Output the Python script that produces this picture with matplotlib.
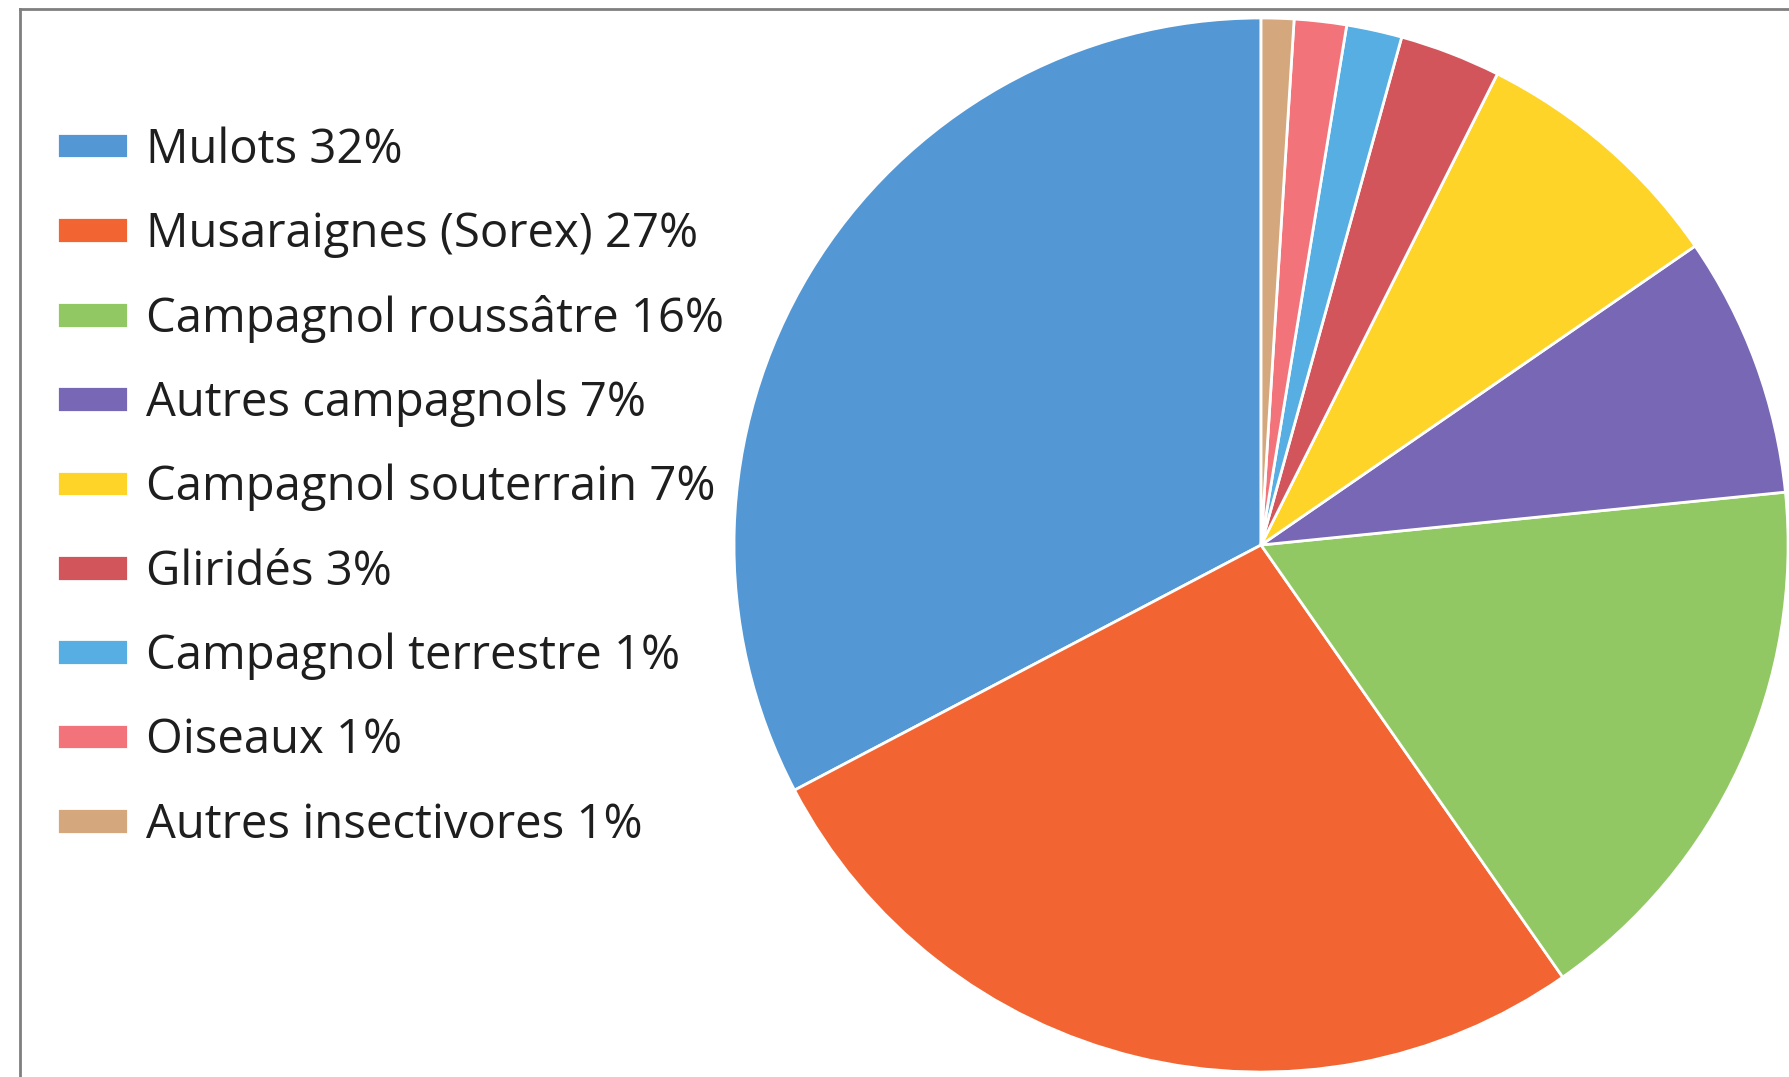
import matplotlib.pyplot as plt
from matplotlib.lines import Line2D

# share of each prey group
labels = ["Mulots 32%", "Musaraignes (Sorex) 27%", "Campagnol roussâtre 16%",
          "Autres campagnols 7%", "Campagnol souterrain 7%", "Gliridés 3%",
          "Campagnol terrestre 1%", "Oiseaux 1%", "Autres insectivores 1%"]
values = [32.7, 27.0, 16.9, 8.0, 8.0, 3.1, 1.7, 1.6, 1.0]
colors = ["#5397D5", "#F26532", "#92C863", "#7867B4", "#FDD427",
          "#D2555C", "#56AEE2", "#F2737A", "#D5A77C"]

plt.rcParams['font.family'] = ['Open Sans', 'DejaVu Sans']

fig = plt.figure(figsize=(17.9, 10.77), dpi=100)
ax = fig.add_axes([0.410, 0.0046, 0.589, 0.9787])

wedges, _ = ax.pie(values, colors=colors, startangle=90, counterclock=True,
                   wedgeprops=dict(edgecolor="white", linewidth=2))
ax.set_xlim(-1.0, 1.0)
ax.set_ylim(-1.0, 1.0)
ax.set_aspect("equal")

fig.legend(wedges, labels, loc="upper left", bbox_to_anchor=(57 / 1790, 0.883),
           frameon=False, fontsize=34, borderpad=0, borderaxespad=0,
           handlelength=1.5, handleheight=0.45, handletextpad=0.38,
           labelspacing=0.78, labelcolor="#1e1e1e")

# grey frame of the original screenshot
fig.add_artist(Line2D([20 / 1790, 20 / 1790], [0, 1 - 9 / 1077],
                      transform=fig.transFigure, color="#7f7f7f", lw=2))
fig.add_artist(Line2D([20 / 1790, 1], [1 - 9 / 1077, 1 - 9 / 1077],
                      transform=fig.transFigure, color="#7f7f7f", lw=2))

fig.savefig("out.png", dpi=100)
